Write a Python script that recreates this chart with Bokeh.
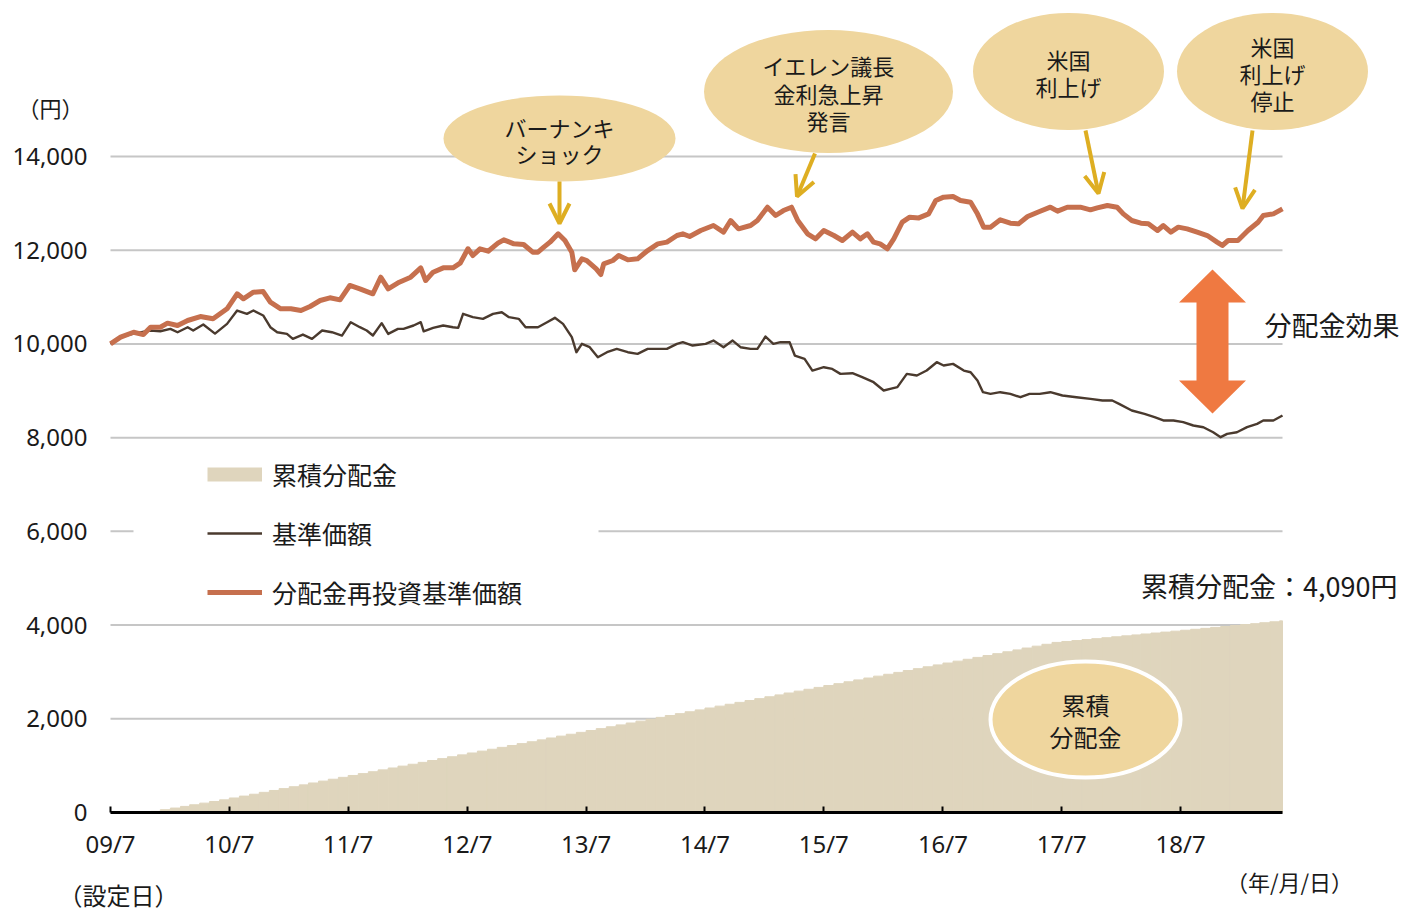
import numpy as np
import pandas as pd
from bokeh.plotting import figure
from bokeh.models import (Range1d, FixedTicker, Legend, LegendItem, Label,
                          Arrow, OpenHead, ColumnDataSource)
from bokeh.embed import file_html
from bokeh.resources import INLINE

# ---------------- data ----------------
tick_dates = ["2009-07-01", "2010-07-01", "2011-07-01", "2012-07-01", "2013-07-01",
              "2014-07-01", "2015-07-01", "2016-07-01", "2017-07-01", "2018-07-01"]
tick_labels = ["09/7", "10/7", "11/7", "12/7", "13/7", "14/7", "15/7", "16/7", "17/7", "18/7"]
y_ticks = [0, 2000, 4000, 6000, 8000, 10000, 12000, 14000]

# 分配金再投資基準価額
reinv_dates = [
    "2009-07-01", "2009-08-01", "2009-09-10", "2009-10-10", "2009-11-01", "2009-12-01", "2009-12-23",
    "2010-01-23", "2010-02-23", "2010-04-03", "2010-05-12", "2010-06-24", "2010-07-25", "2010-08-13",
    "2010-09-13", "2010-10-13", "2010-11-04", "2010-12-06",
    "2011-01-06", "2011-02-06", "2011-03-06", "2011-04-06", "2011-05-06", "2011-06-06", "2011-07-06",
    "2011-08-06", "2011-09-15", "2011-10-09", "2011-11-01", "2011-12-05",
    "2012-01-09", "2012-02-09", "2012-02-24", "2012-03-18", "2012-04-18", "2012-05-18", "2012-06-09",
    "2012-07-03", "2012-07-18", "2012-08-09", "2012-09-03", "2012-10-03", "2012-10-21", "2012-11-21",
    "2012-12-21",
    "2013-01-18", "2013-02-03", "2013-02-21", "2013-03-12", "2013-04-06", "2013-04-27", "2013-05-18",
    "2013-05-27", "2013-06-18", "2013-07-03", "2013-08-01", "2013-08-15", "2013-08-24", "2013-09-21",
    "2013-10-09", "2013-11-06", "2013-12-06",
    "2014-01-06", "2014-02-06", "2014-03-06", "2014-04-06", "2014-04-24", "2014-05-15", "2014-06-18",
    "2014-07-27", "2014-08-27", "2014-09-18", "2014-10-12", "2014-11-18", "2014-12-09",
    "2015-01-09", "2015-02-03", "2015-02-27", "2015-03-24", "2015-04-12", "2015-05-12", "2015-06-06",
    "2015-07-01", "2015-08-01", "2015-08-27", "2015-09-27", "2015-10-21", "2015-11-12", "2015-12-01",
    "2015-12-21",
    "2016-01-12", "2016-02-01", "2016-02-27", "2016-03-21", "2016-04-18", "2016-05-18", "2016-06-09",
    "2016-07-03", "2016-08-01", "2016-08-24", "2016-09-24", "2016-10-15", "2016-11-03", "2016-11-24",
    "2016-12-24",
    "2017-01-24", "2017-02-18", "2017-03-18", "2017-04-18", "2017-05-27", "2017-06-18", "2017-07-18",
    "2017-08-27", "2017-09-27", "2017-10-18", "2017-11-18", "2017-12-18",
    "2018-01-06", "2018-02-01", "2018-03-01", "2018-03-24", "2018-04-21", "2018-05-09", "2018-06-01",
    "2018-06-24", "2018-07-21", "2018-08-21", "2018-09-21", "2018-10-21", "2018-11-06", "2018-11-24",
    "2018-12-24",
    "2019-01-24", "2019-02-24", "2019-03-12", "2019-04-12", "2019-05-10"]
reinv_values = [
    10000, 10144, 10250, 10200, 10357, 10357, 10443,
    10393, 10500, 10585, 10536, 10749, 11070, 10963, 11104, 11118, 10890, 10749,
    10749, 10713, 10799, 10927, 10984, 10941, 11247, 11176, 11070, 11424, 11176, 11317,
    11424, 11624, 11353, 11531, 11624, 11624, 11723, 12030, 11887, 12030, 11979, 12150, 12222, 12136,
    12122,
    11958, 11958, 12065, 12172, 12350, 12207, 11958, 11581, 11816, 11780, 11602, 11481, 11709, 11780,
    11887, 11794, 11816,
    11993, 12136, 12172, 12314, 12350, 12293, 12421, 12527, 12385, 12634, 12456, 12527, 12634,
    12918, 12741, 12847, 12918, 12634, 12350, 12243, 12421, 12314, 12207, 12385, 12243, 12350, 12172,
    12136,
    12030, 12243, 12598, 12705, 12690, 12776, 13061, 13132, 13147, 13061, 13025, 12776, 12492, 12492,
    12648,
    12577, 12563, 12719, 12811, 12918, 12833, 12918, 12918, 12861, 12904, 12954, 12918,
    12776, 12634, 12577, 12563, 12421, 12527, 12385, 12492, 12456, 12385, 12314, 12172, 12101, 12207,
    12207,
    12421, 12598, 12741, 12776, 12883]

# 基準価額
nav_dates = [
    "2009-07-01", "2009-08-01", "2009-09-10", "2009-11-01", "2009-12-01",
    "2010-01-01", "2010-01-23", "2010-02-23", "2010-03-12", "2010-04-12", "2010-05-18", "2010-06-24",
    "2010-07-25", "2010-08-24", "2010-09-13", "2010-10-13", "2010-11-04", "2010-11-25", "2010-12-25",
    "2011-01-12", "2011-02-12", "2011-03-12", "2011-04-12", "2011-05-12", "2011-06-12", "2011-07-09",
    "2011-08-06", "2011-08-27", "2011-09-15", "2011-10-12", "2011-11-01", "2011-12-01", "2011-12-18",
    "2012-01-18", "2012-02-09", "2012-02-18", "2012-03-18", "2012-04-18", "2012-05-18", "2012-06-03",
    "2012-06-18", "2012-07-18", "2012-08-18", "2012-09-18", "2012-10-15", "2012-11-06", "2012-12-06",
    "2012-12-27",
    "2013-02-03", "2013-03-03", "2013-03-27", "2013-04-21", "2013-05-18", "2013-06-01", "2013-06-18",
    "2013-07-12", "2013-08-06", "2013-09-03", "2013-10-03", "2013-11-06", "2013-12-06",
    "2014-01-06", "2014-02-06", "2014-03-06", "2014-04-06", "2014-04-24", "2014-05-24", "2014-07-03",
    "2014-07-27", "2014-08-27", "2014-09-24", "2014-10-18", "2014-11-18", "2014-12-09",
    "2015-01-03", "2015-01-27", "2015-02-18", "2015-03-18", "2015-04-03", "2015-05-03", "2015-05-27",
    "2015-07-01", "2015-07-27", "2015-08-21", "2015-09-27", "2015-10-27", "2015-12-01",
    "2016-01-01", "2016-01-21", "2016-02-12", "2016-03-12", "2016-04-12", "2016-05-12", "2016-06-12",
    "2016-07-03", "2016-08-01", "2016-09-03", "2016-09-24", "2016-10-15", "2016-11-01", "2016-11-24",
    "2016-12-24",
    "2017-01-24", "2017-02-24", "2017-03-24", "2017-04-24", "2017-05-27", "2017-07-03", "2017-08-15",
    "2017-09-27", "2017-11-03", "2017-12-03", "2017-12-24",
    "2018-02-01", "2018-03-12", "2018-04-12", "2018-05-09", "2018-06-09", "2018-07-09", "2018-08-09",
    "2018-09-09", "2018-10-09", "2018-11-01", "2018-11-21", "2018-12-21",
    "2019-01-21", "2019-02-21", "2019-03-12", "2019-04-12", "2019-05-10"]
nav_values = [
    10000, 10144, 10220, 10286, 10270,
    10322, 10250, 10357, 10286, 10414, 10220, 10428, 10713, 10642, 10713, 10607, 10357, 10250, 10214,
    10108, 10200, 10108, 10286, 10250, 10179, 10464, 10357, 10286, 10179, 10443, 10214, 10322, 10322,
    10393, 10464, 10270, 10343, 10393, 10357, 10343, 10642, 10571, 10536, 10642, 10677, 10571, 10536,
    10357,
    10357, 10464, 10557, 10428, 10144, 9823, 10002, 9930, 9716, 9823, 9894, 9823, 9787,
    9894, 9894, 9894, 10002, 10037, 9966, 10002, 10072, 9930, 10072, 9930, 9894, 9894,
    10158, 10002, 10037, 10037, 9752, 9681, 9432, 9503, 9467, 9361, 9375, 9290, 9183,
    9006, 9041, 9077, 9361, 9325, 9432, 9610, 9539, 9574, 9432, 9396, 9219, 8970, 8935,
    8970,
    8935, 8863, 8935, 8935, 8970, 8899, 8863, 8828, 8792, 8792, 8721,
    8579, 8508, 8437, 8366, 8366, 8330, 8259, 8223, 8116, 8010, 8081, 8116,
    8223, 8294, 8366, 8366, 8472]

# 分配金 (monthly, from 2009-11)
dist_first_month = "2009-11"
dist_amounts = [
    25, 35,                                          # 2009
    35, 35, 35, 35, 35, 35, 40, 40, 40, 40, 40, 40,  # 2010
    40, 40, 40, 40, 40, 40, 40, 40, 40, 40, 40, 40,  # 2011
    40, 40, 40, 40, 40, 40, 40, 40, 40, 40, 40, 40,  # 2012
    40, 40, 40, 40, 40, 40, 40, 40, 40, 40, 40, 40,  # 2013
    40, 40, 40, 40, 40, 40, 40, 40, 40, 40, 40, 40,  # 2014
    40, 40, 40, 40, 40, 40, 40, 40, 40, 40, 40, 40,  # 2015
    40, 40, 40, 40, 40, 40, 40, 40, 40, 40, 40, 40,  # 2016
    40, 40, 40, 40, 40, 40, 20, 20, 20, 20, 20, 20,  # 2017
    20, 20, 20, 20, 20, 20, 20, 20, 20, 20, 20, 20,  # 2018
    20, 20, 20, 20, 20]                              # 2019

start_date = "2009-07-01"
end_date = "2019-05-10"

# ---------------- styles ----------------
AREA = "#dfd5bd"
ORANGE = "#c6704e"
BROWN = "#4a3a2e"
BUBBLE = "#efd69e"
YEL = "#deae22"
BIGARROW = "#ef7941"
GRID = "#c6c6c6"
TXT = "#1a1a1a"
JP = "Noto Sans CJK JP"
NUM = "Noto Sans"

W, H = 1421, 914
FL, FR = 110, 1282          # plot-area left/right (pixels)
Y0PX, Y14PX = 812, 156      # pixel rows of 0 and 14,000

X0 = pd.Timestamp(start_date).value / 1e6
X1 = pd.Timestamp(end_date).value / 1e6
KY = 14000 / (Y0PX - Y14PX)


def px(x):
    return X0 + (x - FL) / (FR - FL) * (X1 - X0)


def py(y):
    return (Y0PX - y) * KY


p = figure(width=W, height=H, x_axis_type="datetime",
           x_range=Range1d(px(0), px(W)), y_range=Range1d(py(H), py(0)),
           output_backend="svg", toolbar_location=None,
           min_border=0, min_border_left=0, min_border_right=0,
           min_border_top=0, min_border_bottom=0)
p.outline_line_color = None
p.background_fill_color = "white"
p.border_fill_color = "white"

# axes (library axes, fixed at the data origin)
tick_ms = [pd.Timestamp(d).value / 1e6 for d in tick_dates]
xa = p.xaxis[0]
xa.fixed_location = 0
xa.bounds = (X0, X1)
xa.ticker = FixedTicker(ticks=tick_ms)
xa.major_label_overrides = {t: l for t, l in zip(tick_ms, tick_labels)}
xa.axis_line_color = "black"
xa.axis_line_width = 3
xa.major_tick_line_color = "black"
xa.major_tick_line_width = 2
xa.major_tick_in = 6
xa.major_tick_out = 0
xa.minor_tick_line_color = None
xa.major_label_standoff = 14
xa.major_label_text_font = NUM
xa.major_label_text_font_size = "24px"
xa.major_label_text_color = TXT

ya = p.yaxis[0]
ya.fixed_location = X0
ya.bounds = (0, 14000)
ya.ticker = FixedTicker(ticks=y_ticks)
ya.major_label_overrides = {t: f"{t:,}" for t in y_ticks}
ya.axis_line_color = None
ya.major_tick_line_color = None
ya.minor_tick_line_color = None
ya.major_tick_out = 0
ya.major_tick_in = 0
ya.major_label_standoff = 23
ya.major_label_text_font = NUM
ya.major_label_text_font_size = "24px"
ya.major_label_text_color = TXT

p.xgrid.grid_line_color = None
p.ygrid.grid_line_color = None

# horizontal gridlines across the plot area
p.segment(x0=[X0] * len(y_ticks), x1=[X1] * len(y_ticks), y0=y_ticks, y1=y_ticks,
          line_color=GRID, line_width=2)

# cumulative distributions (monthly steps)
months = pd.period_range(dist_first_month, periods=len(dist_amounts), freq="M")
cum = np.cumsum(dist_amounts)
right_edges = [min(v, X1) for v in ((months + 1).start_time.values.astype("int64") / 1e6)]
dsrc = ColumnDataSource(dict(left=months.start_time.values.astype("int64") / 1e6,
                             right=right_edges, top=cum, bottom=np.zeros(len(cum))))
p.quad(left="left", right="right", top="top", bottom="bottom", source=dsrc,
       fill_color=AREA, line_color=AREA, line_width=1)

# white mask behind the legend on the 6,000 gridline
p.quad(left=[px(133)], right=[px(598)], bottom=[py(538)], top=[py(524)],
       fill_color="white", line_color=None)

nav_r = p.line(pd.to_datetime(nav_dates), nav_values, line_color=BROWN, line_width=2.4,
               line_join="round")
reinv_r = p.line(pd.to_datetime(reinv_dates), reinv_values, line_color=ORANGE, line_width=5,
                 line_join="round")
# legend swatch for the area (zero-length line, only its legend glyph shows)
swatch = p.line(x=[X0, X0], y=[0, 0], line_color=AREA, line_width=14, line_cap="butt")

legend = Legend(items=[LegendItem(label="累積分配金", renderers=[swatch]),
                       LegendItem(label="基準価額", renderers=[nav_r]),
                       LegendItem(label="分配金再投資基準価額", renderers=[reinv_r])],
                location=(207, H - 610), orientation="vertical",
                glyph_width=55, glyph_height=36, label_height=36, label_standoff=10,
                spacing=23, padding=0, margin=0,
                border_line_color=None, background_fill_alpha=0,
                label_text_font=JP, label_text_font_size="25px", label_text_color=TXT)
p.add_layout(legend)

# bubbles
bx = [559, 828, 1068, 1272]
byy = [138, 91, 71, 71]
bw = [232, 249, 191, 191]
bh = [86, 123, 117, 117]
p.ellipse(x=[px(v) for v in bx], y=[py(v) for v in byy], width=bw, height=bh,
          width_units="screen", height_units="screen", fill_color=BUBBLE, line_color=None)
p.ellipse(x=[px(1085)], y=[py(719)], width=[190], height=[116],
          width_units="screen", height_units="screen", fill_color=BUBBLE,
          line_color="white", line_width=4)

# big double arrow (分配金効果)
ax = [1212, 1245.5, 1228, 1228, 1245.5, 1212, 1178.5, 1196, 1196, 1178.5]
ay = [269, 302, 302, 380, 380, 413, 380, 380, 302, 302]
p.patch([px(v) for v in ax], [py(v) for v in ay], fill_color=BIGARROW, line_color=None)

# event arrows
for (x0, y0, x1, y1) in [(559, 181, 559, 223), (814.5, 153, 796.5, 196),
                         (1085, 130, 1098, 193), (1252, 130, 1242, 208)]:
    p.add_layout(Arrow(start=None,
                       end=OpenHead(size=20, line_color=YEL, line_width=4),
                       x_start=px(x0), y_start=py(y0), x_end=px(x1), y_end=py(y1),
                       line_color=YEL, line_width=4))


def lab(text, x, y, size="22px", align="center", font=JP):
    p.add_layout(Label(x=px(x), y=py(y), text=text, text_align=align,
                       text_baseline="middle", text_font=font, text_font_size=size,
                       text_color=TXT))


for t, x, y in [("バーナンキ", 559, 126), ("ショック", 559, 152),
                ("イエレン議長", 828, 64), ("金利急上昇", 828, 92), ("発言", 828, 119),
                ("米国", 1068, 58), ("利上げ", 1068, 85),
                ("米国", 1272, 45), ("利上げ", 1272, 72), ("停止", 1272, 99)]:
    lab(t, x, y)

lab("累積", 1085, 704, "24px")
lab("分配金", 1085, 736, "24px")
lab("分配金効果", 1264, 324, "27px", "left")
lab(f"累積分配金：{int(cum[-1]):,}円", 1397, 585, "27px", "right")
lab("（円）", 50, 106, "22px")
lab("（年/月/日）", 1289, 880, "22px")
lab("（設定日）", 118, 894, "24px")

open("out.html", "w").write(file_html(p, INLINE))
